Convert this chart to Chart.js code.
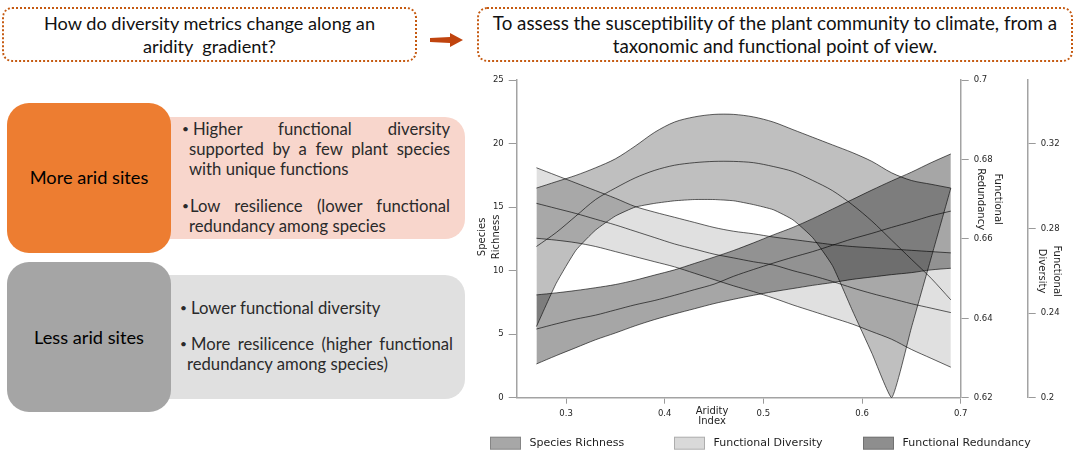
<!DOCTYPE html>
<html><head><meta charset="utf-8"><title>Diversity metrics along an aridity gradient</title>
<script src="https://cdn.jsdelivr.net/npm/chart.js@4.4.1/dist/chart.umd.min.js"></script>
<style>
html,body{margin:0;padding:0;background:#fff;width:1076px;height:453px;overflow:hidden}
#page{position:relative;width:1076px;height:453px;font-family:Lato,"Open Sans",sans-serif;color:#000}
.q{position:absolute;top:7px;height:55px;border:2px dotted #C55A11;border-radius:10px;box-sizing:border-box;display:flex;flex-direction:column;justify-content:center;align-items:center;line-height:22.5px;white-space:nowrap;color:#111}
#q1{left:2px;width:415px}
#q2{left:477px;width:596px}
#arrow{position:absolute;left:426px;top:30px}
.blk{position:absolute;box-sizing:border-box}
#more{left:7px;top:103px;width:164px;height:150px;background:#ED7D31;border-radius:22px;z-index:2}
#moreTxt{left:150px;top:117px;width:315px;height:122px;background:#F8D6CC;border-radius:0 20px 20px 0;z-index:1}
#less{left:7px;top:262px;width:164px;height:150px;background:#A5A5A5;border-radius:22px;z-index:2}
#lessTxt{left:150px;top:275px;width:315px;height:124px;background:#E0E0E0;border-radius:0 20px 20px 0;z-index:1}
.lab{position:absolute;z-index:3;left:7px;width:164px;text-align:center;line-height:24px;white-space:nowrap;color:#000}
.ln{position:absolute;z-index:3;line-height:20px;white-space:nowrap;color:#2a2a2a}
.bu{position:absolute;z-index:3;line-height:20px;color:#2a2a2a;font-size:12px}
.j{text-align:justify;text-align-last:justify}
#chartBox{position:absolute;left:470px;top:70px;width:606px;height:383px;z-index:4}
</style>
</head>
<body>
<div id="page">
  <div class="q" id="q1"><div class="t1">How do diversity metrics change along an</div><div class="t1">aridity&nbsp; gradient?</div></div>
  <svg id="arrow" width="40" height="20"><polygon points="4,8 24,7 24,3 37,10 24,17 24,13 4,12" fill="#C0440E"/></svg>
  <div class="q" id="q2"><div class="t2">To assess the susceptibility of the plant community to climate, from a</div><div class="t2">taxonomic and functional point of view.</div></div>

  <div class="blk" id="more"></div>
  <div class="blk" id="moreTxt"></div>
  <div class="blk" id="less"></div>
  <div class="blk" id="lessTxt"></div>

  <div class="lab bl" style="top:164.7px">More arid sites</div>
  <div class="lab bl" style="top:324.7px">Less arid sites</div>

  <div class="bu" style="left:182px;top:119.3px">•</div>
  <div class="ln bt j" style="left:193px;top:119.3px;width:257px">Higher functional diversity</div>
  <div class="ln bt j" style="left:189px;top:139.3px;width:261px">supported by a few plant species</div>
  <div class="ln bt" style="left:189px;top:159.3px">with unique functions</div>
  <div class="bu" style="left:182px;top:196px">•</div>
  <div class="ln bt j" style="left:190px;top:196px;width:260px">Low resilience (lower functional</div>
  <div class="ln bt" style="left:189px;top:216px">redundancy among species</div>

  <div class="bu" style="left:180px;top:298px">•</div>
  <div class="ln bt" style="left:191px;top:298px">Lower functional diversity</div>
  <div class="bu" style="left:180px;top:334px">•</div>
  <div class="ln bt j" style="left:191px;top:334px;width:262px">More resilicence (higher functional</div>
  <div class="ln bt" style="left:187px;top:354px">redundancy among species)</div>

  <div id="chartBox"><canvas id="c" width="606" height="383"></canvas></div>
</div>
<script>
// ---------- data ----------
const aridity = [0.27,0.29,0.31,0.33,0.35,0.37,0.39,0.41,0.43,0.45,0.47,0.49,0.51,0.53,0.55,0.57,0.59,0.61,0.63,0.65,0.67,0.69];

const srUpper = [16.5,17.0,17.5,18.1,18.8,19.8,20.9,21.7,22.1,22.3,22.3,22.1,21.7,21.1,20.5,19.9,19.3,18.6,17.7,17.1,16.8,16.5];
const srMean  = [11.9,13.0,14.3,15.6,16.5,17.3,17.9,18.3,18.5,18.6,18.6,18.5,18.2,17.8,17.1,16.3,15.2,13.9,12.4,10.9,9.4,7.7];
const srLower = [5.6,9.0,11.6,13.2,14.3,15.0,15.3,15.5,15.6,15.6,15.5,15.2,14.8,14.0,12.6,10.4,6.9,3.5,0,5.5,11.0,16.5];

const fdUpper = [0.3086,0.3050,0.3014,0.2978,0.2942,0.2903,0.2876,0.2852,0.2828,0.2804,0.2786,0.2774,0.2759,0.2747,0.2735,0.2723,0.2714,0.2708,0.2702,0.2696,0.2690,0.2684];
const fdMean  = [0.2918,0.2894,0.2870,0.2843,0.2816,0.2786,0.2756,0.2726,0.2702,0.2678,0.2660,0.2642,0.2627,0.2600,0.2576,0.2549,0.2519,0.2492,0.2468,0.2444,0.2423,0.2402];
const fdLower = [0.2753,0.2744,0.2732,0.2714,0.2690,0.2666,0.2642,0.2618,0.2588,0.2558,0.2528,0.2501,0.2471,0.2438,0.2408,0.2378,0.2348,0.2312,0.2276,0.2228,0.2186,0.2144];

const frUpper = [0.6459,0.6464,0.6470,0.6477,0.6485,0.6496,0.6509,0.6522,0.6538,0.6554,0.6571,0.6590,0.6610,0.6629,0.6651,0.6675,0.6699,0.6723,0.6746,0.6768,0.6792,0.6814];
const frMean  = [0.6373,0.6386,0.6398,0.6408,0.6421,0.6434,0.6445,0.6458,0.6472,0.6486,0.6506,0.6523,0.6539,0.6554,0.6568,0.6584,0.6600,0.6614,0.6629,0.6643,0.6658,0.6670];
const frLower = [0.6285,0.6306,0.6326,0.6346,0.6363,0.6381,0.6397,0.6411,0.6424,0.6437,0.6448,0.6458,0.6467,0.6475,0.6483,0.6490,0.6498,0.6504,0.6510,0.6515,0.6522,0.6526];

const xTicks = [0.3,0.4,0.5,0.6,0.7];
const xTickLabels = ['0.3','0.4','0.5','0.6','0.7'];
const srTicks = [0,5,10,15,20,25];
const srTickLabels = ['0','5','10','15','20','25'];
const frTicks = [0.62,0.64,0.66,0.68,0.70];
const frTickLabels = ['0.62','0.64','0.66','0.68','0.7'];
const fdTicks = [0.20,0.24,0.28,0.32];
const fdTickLabels = ['0.2','0.24','0.28','0.32'];

const seriesNames = ['Species Richness','Functional Diversity','Functional Redundancy'];
const xTitle = ['Aridity','Index'];
const srTitle = ['Species','Richness'];
const frTitle = ['Functional','Redundancy'];
const fdTitle = ['Functional','Diversity'];

// ---------- fit HTML fonts ----------
const mc = document.createElement('canvas').getContext('2d');
function sizeFor(text, target){ mc.font = '100px Lato, "Open Sans", sans-serif'; return 100*target/mc.measureText(text).width; }
const s1 = sizeFor('How do diversity metrics change along an', 332);
const s2 = sizeFor('To assess the susceptibility of the plant community to climate, from a', 566);
const sb = (sizeFor('Lower functional diversity',189)+sizeFor('redundancy among species',199)+sizeFor('with unique functions',159))/3;
const sl = (sizeFor('More arid sites',120)+sizeFor('Less arid sites',108.7))/2;
document.querySelectorAll('.t1').forEach(e=>e.style.fontSize=s1+'px');
document.querySelectorAll('.t2').forEach(e=>e.style.fontSize=s2+'px');
document.querySelectorAll('.bt').forEach(e=>e.style.fontSize=sb+'px');
document.querySelectorAll('.bl').forEach(e=>e.style.fontSize=sl+'px');

// ---------- chart ----------
const bandColor = ['rgba(0,0,0,0.25)','rgba(0,0,0,0.12)','rgba(0,0,0,0.35)'];
const legendColor = ['#a7a7a7','#d9d9d9','#8e8e8e'];
const lineColor = 'rgba(0,0,0,0.62)';
const pts = arr => aridity.map((a,i)=>({x:a,y:arr[i]}));
function ds(label, arr, axis, fill, bg, tension){
  return {label, data:pts(arr), yAxisID:axis, fill, backgroundColor:bg, borderColor:lineColor,
          borderWidth:1, pointRadius:0, tension};
}
const datasets = [
  ds(seriesNames[0]+' upper', srUpper, 'y', '+1', bandColor[0], 0.3),
  ds(seriesNames[0]+' lower', srLower, 'y', false, bandColor[0], 0.15),
  ds(seriesNames[0], srMean, 'y', false, bandColor[0], 0.3),
  ds(seriesNames[1]+' upper', fdUpper, 'yFD', '+1', bandColor[1], 0.3),
  ds(seriesNames[1]+' lower', fdLower, 'yFD', false, bandColor[1], 0.3),
  ds(seriesNames[1], fdMean, 'yFD', false, bandColor[1], 0.3),
  ds(seriesNames[2]+' upper', frUpper, 'yFR', '+1', bandColor[2], 0.3),
  ds(seriesNames[2]+' lower', frLower, 'yFR', false, bandColor[2], 0.3),
  ds(seriesNames[2], frMean, 'yFR', false, bandColor[2], 0.3)
];

function axis(pos, min, max, ticks, labels, size, tickLen){
  return {type:'linear', position:pos, min, max,
    afterBuildTicks: s => { s.ticks = ticks.map(v=>({value:v})); },
    afterFit: s => { if (pos==='bottom') s.height = size; else s.width = size; },
    ticks:{callback:(v,i)=>labels[i], autoSkip:false, maxRotation:0, minRotation:0, padding:5,
           color:'#262626', font:{family:'"DejaVu Sans", sans-serif', size:8.5}},
    grid:{drawOnChartArea:false, drawTicks:true, tickLength:tickLen, color:'#9a9a9a', lineWidth:1},
    border:{display:true, color:'#a3a3a3', width:1.5}
  };
}

const chartText = {
  id:'chartText',
  afterDraw(chart){
    const c = chart.ctx, a = chart.chartArea, s = chart.scales;
    c.save();
    c.fillStyle = '#1e1e1e';
    c.font = '10px "DejaVu Sans", sans-serif';
    c.textAlign = 'center'; c.textBaseline = 'middle';
    const xc = a.left + (a.right - a.left)*0.44;
    c.fillText(xTitle[0], xc, a.bottom + 13.3);
    c.fillText(xTitle[1], xc, a.bottom + 24);
    const rot = (lines, xs, y, ang) => lines.forEach((t,i)=>{
      c.save(); c.translate(xs[i], y); c.rotate(ang); c.fillText(t,0,0); c.restore();
    });
    rot(srTitle, [a.left-34.7, a.left-20.7], (a.top+a.bottom)/2 - 2, -Math.PI/2);
    rot(frTitle, [s.yFR.left+37.3, s.yFR.left+20.3], a.top + 119, Math.PI/2);
    rot(fdTitle, [s.yFD.left+29.3, s.yFD.left+14.3], a.top + 191, Math.PI/2);
    // legend
    const lx = [-26.7, 157.3, 346.3];
    c.font = '11px "DejaVu Sans", sans-serif';
    c.textAlign = 'left';
    seriesNames.forEach((n,k)=>{
      const x0 = a.left + lx[k], y0 = a.bottom + 39;
      c.fillStyle = legendColor[k];
      c.fillRect(x0, y0, 31, 13);
      c.strokeStyle = 'rgba(0,0,0,0.2)'; c.lineWidth = 1;
      c.strokeRect(x0+0.5, y0+0.5, 30, 12);
      c.fillStyle = '#1e1e1e';
      c.fillText(n, x0 + 39.5, y0 + 6.8);
    });
    c.restore();
  }
};

new Chart(document.getElementById('c'), {
  type:'line',
  data:{datasets},
  options:{
    responsive:false, maintainAspectRatio:false, devicePixelRatio:1, animation:false, events:[],
    layout:{padding:{top:10, left:0, right:0, bottom:0}},
    plugins:{legend:{display:false}, tooltip:{enabled:false}, filler:{drawTime:'beforeDatasetsDraw'}},
    scales:{
      x: axis('bottom', 0.25, 0.70, xTicks, xTickLabels, 55.3, 6),
      y: axis('left', 0, 25, srTicks, srTickLabels, 46.7, 8),
      yFR: axis('right', 0.62, 0.70, frTicks, frTickLabels, 67, 8),
      yFD: axis('right', 0.20, 0.35, fdTicks, fdTickLabels, 48.3, 8)
    }
  },
  plugins:[chartText]
});
</script>
</body></html>
